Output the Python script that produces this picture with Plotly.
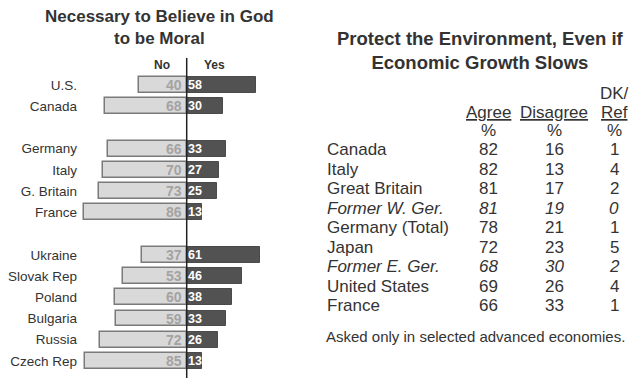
import plotly.graph_objects as go

# ---------------- Data ----------------
left_title = "Necessary to Believe in God<br>to be Moral"
left_countries = ["U.S.", "Canada", " ", "Germany", "Italy", "G. Britain", "France", "  ",
                  "Ukraine", "Slovak Rep", "Poland", "Bulgaria", "Russia", "Czech Rep"]
no_vals = [40, 68, None, 66, 70, 73, 86, None, 37, 53, 60, 59, 72, 85]
yes_vals = [58, 30, None, 33, 27, 25, 13, None, 61, 46, 38, 33, 26, 13]

right_title = "Protect the Environment, Even if<br>Economic Growth Slows"
table_countries = ["Canada", "Italy", "Great Britain", "Former W. Ger.", "Germany (Total)",
                   "Japan", "Former E. Ger.", "United States", "France"]
table_italic = [False, False, False, True, False, False, True, False, False]
agree = [82, 82, 81, 81, 78, 72, 68, 69, 66]
disagree = [16, 13, 17, 19, 21, 23, 30, 26, 33]
dkref = [1, 4, 2, 0, 1, 5, 2, 4, 1]
footnote = "Asked only in selected advanced economies."

# ---------------- Layout helpers ----------------
W, H = 629, 378
FONT = "Liberation Sans, Arial, Helvetica, sans-serif"
NARROW = "Liberation Sans Narrow, Arial Narrow, Liberation Sans, Arial, sans-serif"
DARK = "#333333"


def xp(px):
    return px / W


def yp(py):
    return 1 - py / H


fig = go.Figure()

cats = left_countries
neg_no = [(-v if v is not None else None) for v in no_vals]

fig.add_trace(go.Bar(
    y=cats, x=neg_no, orientation="h", width=0.75,
    marker=dict(color="#d9d9d9", line=dict(color="#7a7a7a", width=1.5)),
    hoverinfo="skip", showlegend=False,
))
fig.add_trace(go.Bar(
    y=cats, x=yes_vals, orientation="h", width=0.75,
    marker=dict(color="#525252", line=dict(color="#4a4a4a", width=1)),
    hoverinfo="skip", showlegend=False,
))

annotations = []
# value labels on bars
for c, n, y in zip(cats, no_vals, yes_vals):
    if n is None:
        continue
    annotations.append(dict(x=0, y=c, xref="x", yref="y", text=f"<b>{n}</b>",
                            xanchor="right", yanchor="middle", xshift=-3, showarrow=False,
                            font=dict(family=NARROW, size=14, color="#a3a3a3")))
    annotations.append(dict(x=0, y=c, xref="x", yref="y", text=f"<b>{y}</b>",
                            xanchor="left", yanchor="middle", xshift=-0.5, showarrow=False,
                            font=dict(family=NARROW, size=12.5, color="#ffffff")))

# No / Yes headers
annotations.append(dict(x=0, y=yp(65), xref="x", yref="paper", text="<b>No</b>",
                        xanchor="right", yanchor="middle", xshift=-15, showarrow=False,
                        font=dict(family=FONT, size=12, color=DARK)))
annotations.append(dict(x=0, y=yp(65), xref="x", yref="paper", text="<b>Yes</b>",
                        xanchor="left", yanchor="middle", xshift=15, showarrow=False,
                        font=dict(family=FONT, size=12, color=DARK)))

# Titles
annotations.append(dict(x=xp(159), y=yp(27.5), xref="paper", yref="paper", text=f"<b>{left_title}</b>",
                        xanchor="center", yanchor="middle", showarrow=False,
                        font=dict(family=FONT, size=17, color=DARK)))
annotations.append(dict(x=xp(481), y=yp(50), xref="paper", yref="paper", text=f"<b>{right_title}</b>",
                        xanchor="center", yanchor="middle", showarrow=False,
                        font=dict(family=FONT, size=18.5, color=DARK)))

# Table
col_x = [488, 554, 614]
tfont = dict(family=FONT, size=17, color=DARK)


def cell(px, py, text, anchor="center"):
    annotations.append(dict(x=xp(px), y=yp(py), xref="paper", yref="paper", text=text,
                            xanchor=anchor, yanchor="middle", showarrow=False, font=tfont))


cell(col_x[2], 93, "DK/")
cell(col_x[0], 112, "<u>Agree</u>")
cell(col_x[1], 112, "<u>Disagree</u>")
cell(col_x[2], 112, "<u>Ref</u>")
for cx in col_x:
    cell(cx, 130, "%")

row0, dy = 150, 19.45
for i, (name, it, a, d, k) in enumerate(zip(table_countries, table_italic, agree, disagree, dkref)):
    py = row0 + i * dy
    wrap = (lambda s: f"<i>{s}</i>") if it else (lambda s: s)
    cell(325, py, wrap(name), anchor="left")
    cell(col_x[0], py, wrap(str(a)))
    cell(col_x[1], py, wrap(str(d)))
    cell(col_x[2], py, wrap(str(k)))

annotations.append(dict(x=xp(324), y=yp(336), xref="paper", yref="paper", text=footnote,
                        xanchor="left", yanchor="middle", showarrow=False,
                        font=dict(family=FONT, size=15, color=DARK)))

# scales: center line at px 186.7, 1.2 px per unit, plot area x from 81 to 300 px
x0_px, x1_px, cx_px, ppu = 81, 300, 186.7, 1.2
row_top, row_step = 85, 21.23
y_top_px, y_bot_px = 58, 378

fig.update_layout(
    width=W, height=H,
    margin=dict(l=0, r=0, t=0, b=0),
    paper_bgcolor="white", plot_bgcolor="white",
    barmode="relative", bargap=0,
    annotations=annotations,
    xaxis=dict(domain=[xp(x0_px), xp(x1_px)],
               range=[(x0_px - cx_px) / ppu, (x1_px - cx_px) / ppu],
               showgrid=False, zeroline=False, showticklabels=False, showline=False,
               fixedrange=True),
    yaxis=dict(domain=[0, yp(y_top_px)], type="category",
               categoryorder="array", categoryarray=cats,
               range=[(y_bot_px - row_top) / row_step, (y_top_px - row_top) / row_step],
               showgrid=False, zeroline=False, showline=False, ticks="",
               ticklabelstandoff=3,
               tickfont=dict(family=FONT, size=13.5, color=DARK), fixedrange=True),
    shapes=[dict(type="line", xref="x", yref="y domain", x0=0, x1=0, y0=0, y1=1,
                 line=dict(color="#222222", width=1.5))],
)

fig.write_html("out.html", config={"displayModeBar": False},
               post_script="document.body.style.margin='0';document.body.style.overflow='hidden';")
